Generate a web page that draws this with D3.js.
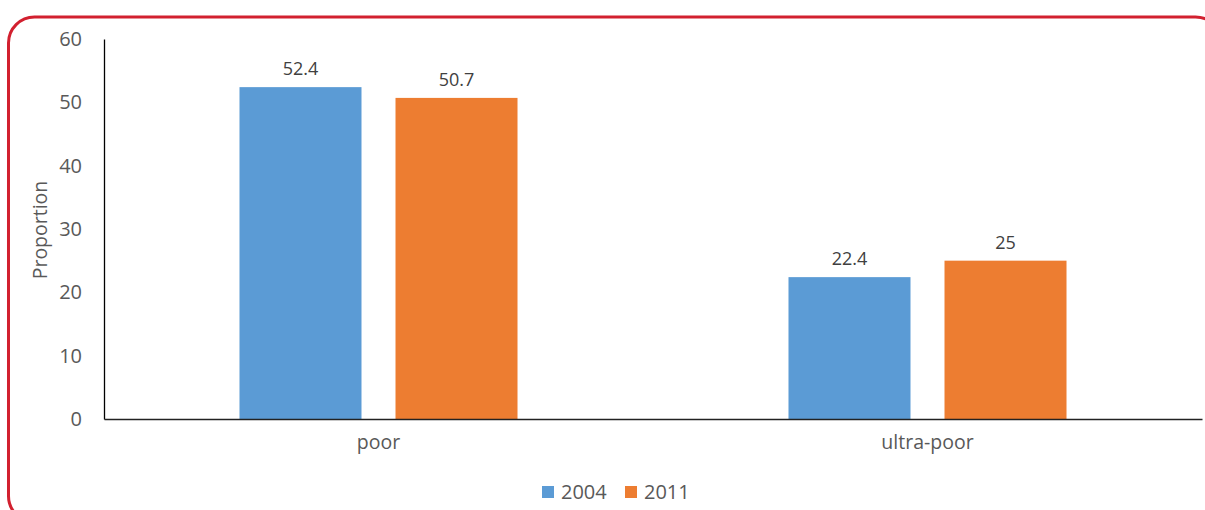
<!DOCTYPE html>
<html><head><meta charset="utf-8">
<script src="https://cdn.jsdelivr.net/npm/d3@7/dist/d3.min.js"></script>
<style>body{margin:0;background:#fff;}svg{display:block;font-family:"Open Sans",sans-serif;}</style>
</head><body>
<svg id="chart" width="1205" height="510"></svg>
<script>
const categories = ["poor", "ultra-poor"];
const seriesNames = ["2004", "2011"];
const values2004 = [52.4, 22.4];
const values2011 = [50.7, 25];
const valueLabels2004 = ["52.4", "22.4"];
const valueLabels2011 = ["50.7", "25"];
const yTicks = [0, 10, 20, 30, 40, 50, 60];
const colors = ["#5B9BD5", "#ED7D31"];

const svg = d3.select("#chart");
const W = 1205, H = 510;
const m = {left: 104, right: 3, top: 39, bottom: 91};

svg.append("rect").attr("x", 8.5).attr("y", 17).attr("width", 1213).attr("height", 505)
  .attr("rx", 26).attr("ry", 26).attr("fill", "none").attr("stroke", "#D2202F").attr("stroke-width", 3);

const x0 = d3.scaleBand().domain(categories).range([m.left, W - m.right]).paddingInner(0).paddingOuter(0);
const bw = x0.bandwidth();
const x1 = d3.scaleBand().domain(seriesNames).range([bw * 0.2468, bw * 0.7532]).paddingInner(0.218).paddingOuter(0);
const y = d3.scaleLinear().domain([0, 60]).range([H - m.bottom, m.top]);

const data = categories.map((c, i) => ({cat: c, vals: [
  {s: seriesNames[0], v: values2004[i], l: valueLabels2004[i], c: colors[0]},
  {s: seriesNames[1], v: values2011[i], l: valueLabels2011[i], c: colors[1]}
]}));

const g = svg.append("g").selectAll("g").data(data).join("g")
  .attr("transform", d => `translate(${x0(d.cat)},0)`);
g.selectAll("rect").data(d => d.vals).join("rect")
  .attr("x", d => x1(d.s)).attr("width", x1.bandwidth())
  .attr("y", d => y(d.v)).attr("height", d => y(0) - y(d.v)).attr("fill", d => d.c);
g.selectAll("text").data(d => d.vals).join("text")
  .attr("x", d => x1(d.s) + x1.bandwidth() / 2).attr("y", d => y(d.v) - 12)
  .attr("text-anchor", "middle").attr("font-size", "18px").attr("fill", "#404040").text(d => d.l);

// y axis
const yAxis = svg.append("g").attr("transform", `translate(${m.left},0)`)
  .call(d3.axisLeft(y).tickValues(yTicks).tickSize(0).tickPadding(22));
yAxis.select(".domain").attr("stroke", "#000").attr("stroke-width", 1.3);
yAxis.selectAll("text").attr("font-size", "20px").attr("fill", "#595959").attr("font-family", '"Open Sans",sans-serif');

// x axis
const xAxis = svg.append("g").attr("transform", `translate(0,${y(0)})`)
  .call(d3.axisBottom(x0).tickSize(0).tickPadding(16));
xAxis.select(".domain").attr("stroke", "#222").attr("stroke-width", 1.5);
xAxis.selectAll("text").attr("font-size", "19.5px").attr("fill", "#595959").attr("font-family", '"Open Sans",sans-serif');

svg.append("text").attr("transform", "translate(47,230) rotate(-90)")
  .attr("text-anchor", "middle").attr("font-size", "19.5px").attr("fill", "#595959").text("Proportion");

// legend
const legendX = [542, 625];
const lg = svg.append("g").selectAll("g").data(seriesNames).join("g")
  .attr("transform", (d, i) => `translate(${legendX[i]},486)`);
lg.append("rect").attr("width", 12).attr("height", 12).attr("fill", (d, i) => colors[i]);
lg.append("text").attr("x", 19).attr("y", 13).attr("font-size", "20px").attr("fill", "#595959").text(d => d);
</script>
</body></html>
